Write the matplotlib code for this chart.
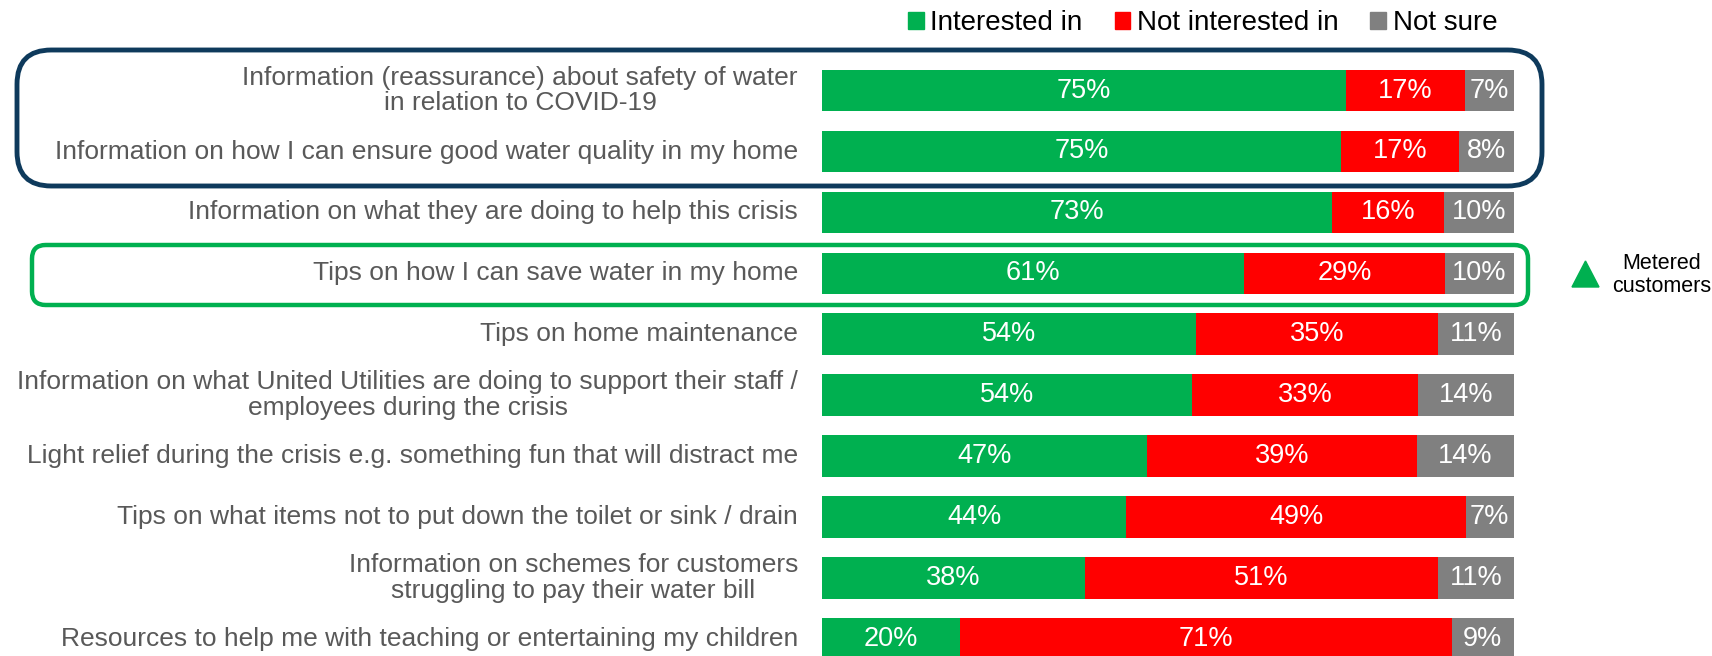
import numpy as np
import matplotlib
matplotlib.use("Agg")
import matplotlib.pyplot as plt
from matplotlib.patches import FancyBboxPatch, Polygon, Patch

plt.rcParams['font.family'] = ['Liberation Sans', 'DejaVu Sans']

categories = [
    "Information (reassurance) about safety of water\nin relation to COVID-19",
    "Information on how I can ensure good water quality in my home",
    "Information on what they are doing to help this crisis",
    "Tips on how I can save water in my home",
    "Tips on home maintenance",
    "Information on what United Utilities are doing to support their staff /\nemployees during the crisis",
    "Light relief during the crisis e.g. something fun that will distract me",
    "Tips on what items not to put down the toilet or sink / drain",
    "Information on schemes for customers\nstruggling to pay their water bill",
    "Resources to help me with teaching or entertaining my children",
]
interested = [75, 75, 73, 61, 54, 54, 47, 44, 38, 20]
not_interested = [17, 17, 16, 29, 35, 33, 39, 49, 51, 71]
not_sure = [7, 8, 10, 10, 11, 14, 14, 7, 11, 9]
series_names = ["Interested in", "Not interested in", "Not sure"]
colors = ["#00B050", "#FF0000", "#808080"]

W, H = 1712, 656
fig = plt.figure(figsize=(W / 100, H / 100), dpi=100)

# bar area in pixels
x0, x1 = 822, 1514
row0, step = 90.6, 60.9
ax = fig.add_axes([x0 / W, 0, (x1 - x0) / W, 1])
ax.set_xlim(0, 1)
ax.set_ylim((H - row0) / step, -row0 / step)
ax.axis("off")

# 100% stacked: each row is scaled to its own total
data = np.array([interested, not_interested, not_sure], dtype=float)
shares = data / data.sum(axis=0)
y = np.arange(len(categories))
left = np.zeros(len(categories))
for vals, share, col, name in zip(data, shares, colors, series_names):
    ax.barh(y, share, left=left, height=0.68, color=col, label=name)
    for yi, l, s, v in zip(y, left, share, vals):
        ax.text(l + s / 2, yi, f"{int(v)}%", ha="center", va="center",
                color="white", fontsize=19.5)
    left += share

for yi, lab in zip(y, categories):
    ax.text(-24 / (x1 - x0), yi, lab, ha="right", va="center", color="#595959",
            fontsize=19, linespacing=1.08, multialignment="center")

# legend
handles = [Patch(color=c) for c in colors]
fig.legend(handles, series_names, loc="upper left",
           bbox_to_anchor=(893 / W, 1.0 + 5 / H),
           ncol=3, frameon=False, fontsize=20, handlelength=0.55, handleheight=0.6,
           handletextpad=0.25, columnspacing=1.15, borderaxespad=0.15)

# highlight boxes
box1 = FancyBboxPatch((17 / W, 1 - 186 / H), (1542 - 17) / W, (186 - 50) / H,
                      boxstyle="round,pad=0,rounding_size=0.02",
                      transform=fig.transFigure, fill=False,
                      edgecolor="#0E3A5C", linewidth=3.5, mutation_aspect=W / H)
box2 = FancyBboxPatch((32 / W, 1 - 305 / H), (1528 - 32) / W, (305 - 245) / H,
                      boxstyle="round,pad=0,rounding_size=0.008",
                      transform=fig.transFigure, fill=False,
                      edgecolor="#00B050", linewidth=3.2, mutation_aspect=W / H)
fig.add_artist(box1)
fig.add_artist(box2)

tri = Polygon([(1572 / W, 1 - 287 / H), (1599 / W, 1 - 287 / H), (1585.5 / W, 1 - 261 / H)],
              closed=True, transform=fig.transFigure, color="#00B050")
fig.add_artist(tri)
fig.text(1662 / W, 1 - 275 / H, "Metered\ncustomers", ha="center", va="center",
         fontsize=15.5, color="black", linespacing=1.18)

fig.savefig("out.png", dpi=100)
